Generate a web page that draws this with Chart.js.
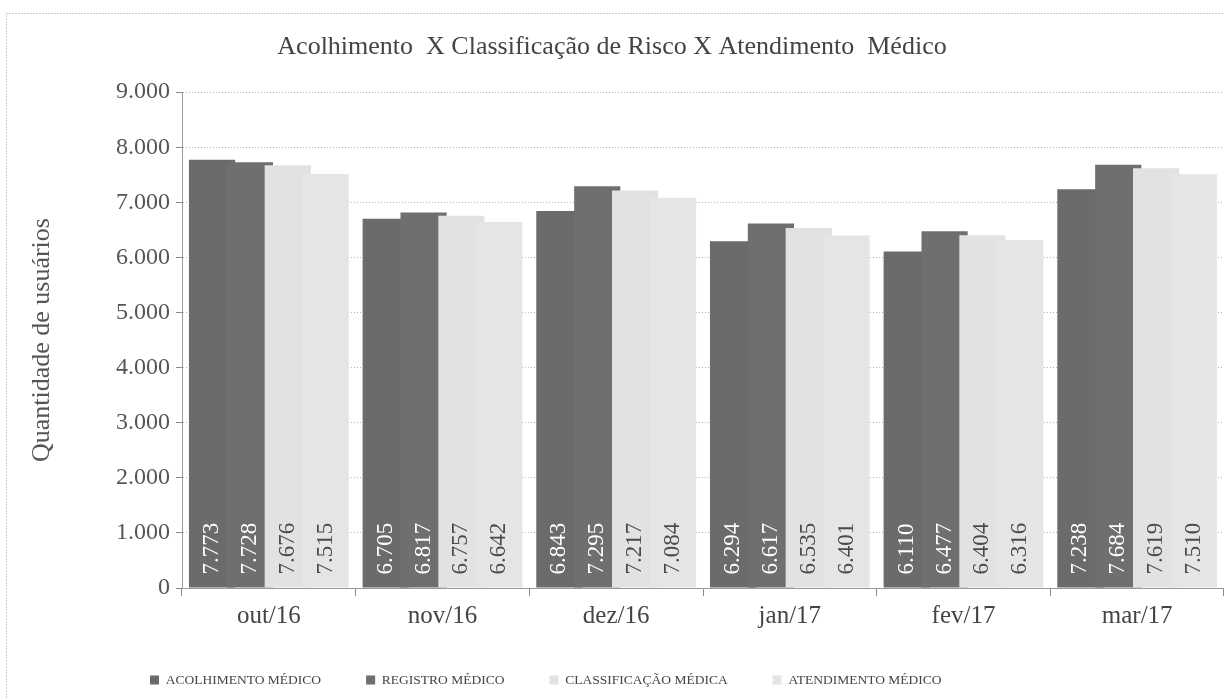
<!DOCTYPE html>
<html lang="pt-BR">
<head>
<meta charset="utf-8">
<title>Acolhimento X Classificação de Risco X Atendimento Médico</title>
<script src="https://cdn.jsdelivr.net/npm/chart.js@4.4.1/dist/chart.umd.min.js"></script>
<style>
  html, body { margin: 0; padding: 0; background: #fff; }
  #wrap { position: relative; width: 1224px; height: 698px; }
</style>
</head>
<body>
<div id="wrap"><canvas id="grafico" width="1224" height="698"></canvas></div>
<script>
// Dados do gráfico
const meses = ['out/16', 'nov/16', 'dez/16', 'jan/17', 'fev/17', 'mar/17'];
const acolhimento = [7773, 6705, 6843, 6294, 6110, 7238];
const registro = [7728, 6817, 7295, 6617, 6477, 7684];
const classificacao = [7676, 6757, 7217, 6535, 6404, 7619];
const atendimento = [7515, 6642, 7084, 6401, 6316, 7510];
const nomesSeries = ['ACOLHIMENTO MÉDICO', 'REGISTRO MÉDICO', 'CLASSIFICAÇÃO MÉDICA', 'ATENDIMENTO MÉDICO'];
const yMin = 0;
const yMax = 9000;
const yPasso = 1000;

const FONTE = '"Liberation Serif", "Times New Roman", serif';
const coresBarras = ['#6b6b6b', '#6f6f6f', '#e2e2e2', '#e5e5e5'];
const coresRotulo = ['#ffffff', '#ffffff', '#4a4a4a', '#4a4a4a'];

// posição da área do gráfico e da legenda
const BASE_EIXO = 588;
const LEGENDA_X = 150;
const LEGENDA_Y = 680;
const LEGENDA_PAD = 45;
const LEGENDA_FONTE = 13.5;

// 7773 -> "7.773"
function formatarMilhar(v) {
  return String(v).replace(/\B(?=(\d{3})+(?!\d))/g, '.');
}

// Moldura pontilhada em volta do gráfico
const moldura = {
  id: 'moldura',
  beforeDraw(chart) {
    const ctx = chart.ctx;
    ctx.save();
    ctx.fillStyle = '#fff';
    ctx.fillRect(0, 0, chart.width, chart.height);
    ctx.strokeStyle = '#9a9a9a';
    ctx.lineWidth = 1;
    ctx.setLineDash([1, 2]);
    ctx.strokeRect(6.5, 13.5, chart.width + 20, chart.height + 20);
    ctx.restore();
  }
};

// Desenha as barras na ordem das séries (a última fica por cima) e os rótulos
const barrasEmOrdem = {
  id: 'barrasEmOrdem',
  beforeDatasetsDraw(chart) {
    const ctx = chart.ctx;
    chart.data.datasets.forEach((ds, i) => {
      if (chart.isDatasetVisible(i)) chart.getDatasetMeta(i).controller.draw();
    });

    ctx.save();
    ctx.font = '23px ' + FONTE;
    ctx.textAlign = 'left';
    ctx.textBaseline = 'middle';
    chart.data.datasets.forEach((ds, i) => {
      if (!chart.isDatasetVisible(i)) return;
      chart.getDatasetMeta(i).data.forEach((bar, j) => {
        ctx.save();
        ctx.translate(bar.x, bar.base - 13);
        ctx.rotate(-Math.PI / 2);
        ctx.fillStyle = coresRotulo[i];
        ctx.fillText(formatarMilhar(ds.data[j]), 0, 0);
        ctx.restore();
      });
    });
    ctx.restore();
    return false;
  }
};

// Legenda alinhada à esquerda, na posição do original
const posLegenda = {
  id: 'posLegenda',
  afterLayout(chart) {
    const lg = chart.legend;
    if (!lg) return;
    const w = lg.right - lg.left;
    const h = lg.bottom - lg.top;
    lg.left = LEGENDA_X - LEGENDA_PAD;
    lg.right = lg.left + w;
    lg.top = LEGENDA_Y - LEGENDA_PAD - LEGENDA_FONTE / 2;
    lg.bottom = lg.top + h;
  }
};

const series = [acolhimento, registro, classificacao, atendimento];

const config = {
  type: 'bar',
  data: {
    labels: meses,
    datasets: series.map((valores, i) => ({
      label: nomesSeries[i],
      data: valores,
      backgroundColor: coresBarras[i],
      borderWidth: 0,
      categoryPercentage: 0.872,
      barPercentage: 1.22
    }))
  },
  options: {
    responsive: false,
    animation: false,
    layout: { padding: { top: 30, right: 0, bottom: 0, left: 0 } },
    plugins: {
      title: {
        display: true,
        text: 'Acolhimento  X Classificação de Risco X Atendimento  Médico',
        color: '#444',
        font: { family: FONTE, size: 26, weight: 'normal' },
        padding: { top: 2, bottom: 29 }
      },
      legend: {
        position: 'bottom',
        align: 'start',
        labels: {
          boxWidth: 9,
          boxHeight: 9,
          padding: LEGENDA_PAD,
          color: '#444',
          font: { family: FONTE, size: LEGENDA_FONTE }
        }
      },
      tooltip: { enabled: false }
    },
    scales: {
      x: {
        ticks: { color: '#444', font: { family: FONTE, size: 25 }, padding: 5 },
        grid: { drawOnChartArea: false, tickLength: 8, color: '#888' },
        border: { color: '#9a9a9a' },
        afterFit(s) {
          const lg = s.chart.legend;
          s.height = 698 - BASE_EIXO - (lg ? lg.height : 0);
        }
      },
      y: {
        min: yMin,
        max: yMax,
        ticks: {
          stepSize: yPasso,
          color: '#555',
          font: { family: FONTE, size: 24 },
          padding: 6,
          callback: v => formatarMilhar(v)
        },
        grid: { color: '#b5b5b5', tickLength: 6, tickColor: '#888' },
        border: { color: '#9a9a9a', dash: [1, 2] },
        title: {
          display: true,
          text: 'Quantidade de usuários',
          color: '#555',
          font: { family: FONTE, size: 26 },
          padding: { top: 27, bottom: 0 }
        },
        afterFit(s) { s.width = 182; }
      }
    }
  },
  plugins: [moldura, barrasEmOrdem, posLegenda]
};

new Chart(document.getElementById('grafico').getContext('2d'), config);
</script>
</body>
</html>
